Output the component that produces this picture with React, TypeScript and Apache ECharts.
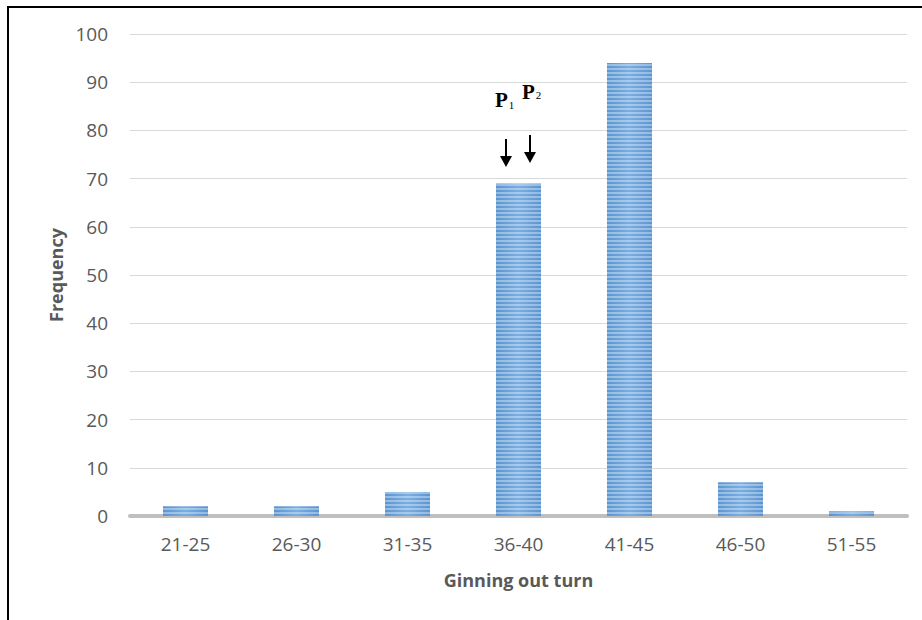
import React, { useEffect, useRef } from "react";
import * as echarts from "echarts";

const categories = ["21-25", "26-30", "31-35", "36-40", "41-45", "46-50", "51-55"];
const frequencies = [2, 2, 5, 69, 94, 7, 1];
const yTicks = { min: 0, max: 100, interval: 10 };
const xAxisTitle = "Ginning out turn";
const yAxisTitle = "Frequency";

export default function App() {
  const ref = useRef<HTMLDivElement>(null);
  useEffect(() => {
    if (!ref.current) return;
    const chart = echarts.init(ref.current, null, { renderer: "svg" });
    const arrow = (x: number, y1: number, y2: number) => [
      { type: "line", shape: { x1: x, y1, x2: x, y2: y2 - 8 }, style: { stroke: "#000", lineWidth: 2 } },
      {
        type: "polygon",
        shape: { points: [[x - 6, y2 - 11], [x + 6, y2 - 11], [x, y2]] },
        style: { fill: "#000" },
      },
    ];
    chart.setOption({
      animation: false,
      backgroundColor: "#fff",
      grid: { left: 130, right: 15, top: 34, bottom: 104 },
      xAxis: {
        type: "category",
        data: categories,
        name: xAxisTitle,
        nameLocation: "middle",
        nameGap: 55,
        nameTextStyle: { fontFamily: "Open Sans", fontWeight: "bold", fontSize: 18, color: "#595959" },
        axisLine: { lineStyle: { color: "#bfbfbf", width: 4 } },
        axisTick: { show: false },
        axisLabel: { fontFamily: "Open Sans", fontSize: 19, color: "#595959", margin: 18 },
      },
      yAxis: {
        type: "value",
        min: yTicks.min,
        max: yTicks.max,
        interval: yTicks.interval,
        name: yAxisTitle,
        nameLocation: "middle",
        nameGap: 65,
        nameTextStyle: { fontFamily: "Open Sans", fontWeight: "bold", fontSize: 18, color: "#595959" },
        axisLine: { show: false },
        axisTick: { show: false },
        axisLabel: { fontFamily: "Open Sans", fontSize: 19, color: "#595959", margin: 22 },
        splitLine: { lineStyle: { color: "#d9d9d9", width: 1 } },
      },
      series: [
        {
          type: "bar",
          data: frequencies,
          barWidth: 45,
          itemStyle: {
            color: {
              type: "linear",
              x: 0, y: 0, x2: 1, y2: 0,
              colorStops: [
                { offset: 0, color: "#5b95d0" },
                { offset: 0.5, color: "#7aaee0" },
                { offset: 1, color: "#5b95d0" },
              ],
            },
            decal: {
              symbol: "rect",
              symbolSize: 1,
              dashArrayX: [1, 0],
              dashArrayY: [2, 2],
              color: "rgba(255,255,255,0.35)",
              rotation: 0,
            },
          },
        },
      ],
      graphic: [
        { type: "line", shape: { x1: 8, y1: 7, x2: 922, y2: 7 }, style: { stroke: "#000", lineWidth: 2 } },
        { type: "line", shape: { x1: 8, y1: 6, x2: 8, y2: 620 }, style: { stroke: "#000", lineWidth: 2 } },
        {
          type: "text",
          x: 495,
          y: 89,
          style: {
            text: "{p|P}{s|1}",
            rich: {
              p: { fontFamily: "Liberation Serif", fontWeight: "bold", fontSize: 21, fill: "#000" },
              s: { fontFamily: "Liberation Serif", fontSize: 11, fill: "#000", padding: [10, 0, 0, 1] },
            },
          },
        },
        {
          type: "text",
          x: 522,
          y: 81,
          style: {
            text: "{p|P}{s|2}",
            rich: {
              p: { fontFamily: "Liberation Serif", fontWeight: "bold", fontSize: 21, fill: "#000" },
              s: { fontFamily: "Liberation Serif", fontSize: 11, fill: "#000", padding: [6, 0, 0, 1] },
            },
          },
        },
        ...arrow(506, 139, 167),
        ...arrow(530, 135, 163),
      ],
    });
    return () => chart.dispose();
  }, []);
  return <div ref={ref} style={{ position: "absolute", left: 0, top: 0, width: 922, height: 620 }} />;
}
